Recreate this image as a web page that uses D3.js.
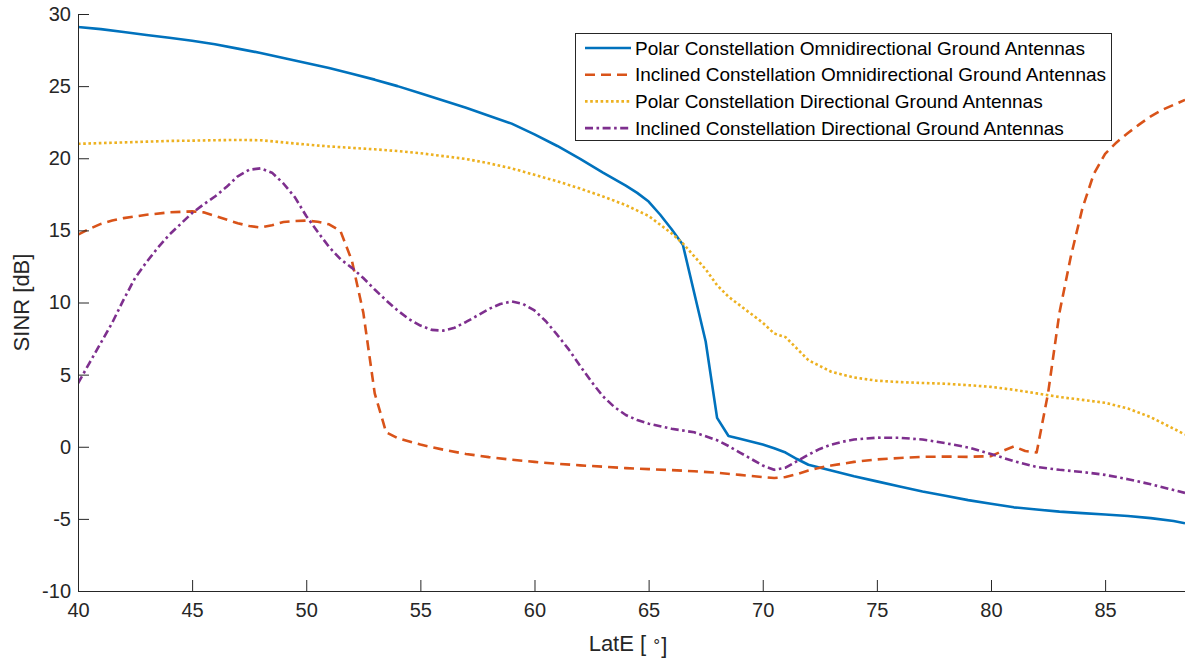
<!DOCTYPE html>
<html>
<head>
<meta charset="utf-8">
<script src="https://cdn.jsdelivr.net/npm/d3@7"></script>
<style>
  html, body { margin: 0; padding: 0; background: #fff; }
  svg { display: block; font-family: "Liberation Sans", Arial, Helvetica, sans-serif; }
</style>
</head>
<body>
<svg id="chart" width="1185" height="659"></svg>
<script>
// SINR versus latitude for polar / inclined constellations

const seriesNames = [
  "Polar Constellation Omnidirectional Ground Antennas",
  "Inclined Constellation Omnidirectional Ground Antennas",
  "Polar Constellation Directional Ground Antennas",
  "Inclined Constellation Directional Ground Antennas"
];

const xTicks = [40, 45, 50, 55, 60, 65, 70, 75, 80, 85];
const yTicks = [-10, -5, 0, 5, 10, 15, 20, 25, 30];

// [LatE, SINR dB]
const polarOmni = [
  [40, 29.1], [41, 28.95], [42, 28.75], [43, 28.55], [44, 28.35], [45, 28.15],
  [46, 27.9], [47, 27.6], [48, 27.3], [49, 26.95], [50, 26.6], [51, 26.25],
  [52, 25.85], [53, 25.45], [54, 25.0], [55, 24.5], [56, 24.0], [57, 23.5],
  [58, 22.95], [59, 22.4], [60, 21.65], [61, 20.85], [62, 19.95], [63, 19.0],
  [64, 18.1], [64.5, 17.6], [65, 17.0], [65.5, 16.1], [66, 15.1], [66.5, 14.0],
  [67.5, 7.3], [68, 2.0], [68.5, 0.75], [69, 0.55], [70, 0.15], [70.5, -0.1],
  [71, -0.4], [71.5, -0.85], [72, -1.25], [73, -1.65], [74, -2.05], [75, -2.4],
  [76, -2.75], [77, -3.1], [78, -3.4], [79, -3.7], [80, -3.95], [81, -4.2],
  [82, -4.35], [83, -4.5], [84, -4.6], [85, -4.7], [86, -4.8], [87, -4.95],
  [88, -5.15], [88.5, -5.3]
];

const inclinedOmni = [
  [40, 14.7], [40.5, 15.1], [41, 15.45], [41.5, 15.68], [42, 15.85], [43, 16.08],
  [44, 16.25], [45, 16.32], [45.5, 16.25], [46, 16.0], [46.5, 15.75], [47, 15.5],
  [47.5, 15.3], [48, 15.2], [48.5, 15.35], [49, 15.58], [49.5, 15.65], [50, 15.68],
  [50.5, 15.6], [51, 15.42], [51.5, 14.95], [52, 12.9], [52.5, 9.3], [53, 3.7],
  [53.5, 1.0], [54, 0.6], [55, 0.15], [56, -0.2], [57, -0.5], [58, -0.72],
  [59, -0.9], [60, -1.05], [61, -1.18], [62, -1.29], [63, -1.38], [64, -1.48],
  [65, -1.55], [66, -1.62], [67, -1.7], [68, -1.8], [69, -1.95], [70, -2.1],
  [70.5, -2.17], [71, -2.1], [71.5, -1.9], [72, -1.65], [72.5, -1.45], [73, -1.3],
  [74, -1.05], [75, -0.88], [76, -0.78], [77, -0.7], [78, -0.68], [79, -0.7],
  [80, -0.65], [80.5, -0.3], [81, 0.02], [81.5, -0.3], [82, -0.4], [82.5, 3.7],
  [83, 9.3], [83.5, 13.2], [84, 16.5], [84.5, 18.9], [85, 20.3], [85.5, 21.1],
  [86, 21.75], [86.5, 22.35], [87, 22.9], [87.5, 23.35], [88, 23.7], [88.5, 24.05]
];

const polarDir = [
  [40, 21.0], [41, 21.05], [42, 21.1], [43, 21.15], [44, 21.2], [45, 21.22],
  [46, 21.25], [47, 21.27], [48, 21.25], [49, 21.1], [50, 20.95], [51, 20.82],
  [52, 20.72], [53, 20.62], [54, 20.5], [55, 20.35], [56, 20.15], [57, 19.95],
  [58, 19.65], [59, 19.3], [60, 18.85], [61, 18.4], [62, 17.9], [63, 17.35],
  [64, 16.75], [65, 16.0], [66, 14.8], [66.5, 14.1], [67, 13.2], [67.5, 12.3],
  [68, 11.2], [68.5, 10.4], [69, 9.8], [69.5, 9.2], [70, 8.6], [70.5, 7.85],
  [71, 7.6], [71.5, 6.8], [72, 6.0], [72.5, 5.6], [73, 5.2], [74, 4.8],
  [75, 4.58], [76, 4.48], [77, 4.42], [78, 4.37], [79, 4.27], [80, 4.15],
  [81, 3.95], [82, 3.7], [83, 3.45], [84, 3.25], [85, 3.05], [86, 2.65],
  [87, 2.05], [88, 1.25], [88.5, 0.85]
];

const inclinedDir = [
  [40, 4.4], [40.5, 5.8], [41, 7.2], [41.5, 8.6], [42, 10.2], [42.5, 11.7],
  [43, 12.8], [43.5, 13.8], [44, 14.7], [44.5, 15.45], [45, 16.2], [45.5, 16.8],
  [46, 17.35], [46.5, 18.0], [47, 18.75], [47.5, 19.2], [48, 19.3], [48.5, 19.0],
  [49, 18.25], [49.5, 17.3], [50, 16.0], [50.5, 14.9], [51, 13.85], [51.5, 13.0],
  [52, 12.4], [52.5, 11.7], [53, 10.9], [53.5, 10.15], [54, 9.45], [54.5, 8.85],
  [55, 8.4], [55.5, 8.1], [56, 8.05], [56.5, 8.25], [57, 8.65], [57.5, 9.1],
  [58, 9.55], [58.5, 9.9], [59, 10.07], [59.5, 9.9], [60, 9.45], [60.5, 8.7],
  [61, 7.75], [61.5, 6.75], [62, 5.6], [62.5, 4.5], [63, 3.5], [63.5, 2.75],
  [64, 2.2], [64.5, 1.85], [65, 1.6], [66, 1.25], [67, 1.0], [68, 0.45],
  [68.5, 0.05], [69, -0.4], [69.5, -0.85], [70, -1.3], [70.5, -1.6], [71, -1.45],
  [71.5, -1.0], [72, -0.55], [72.5, -0.15], [73, 0.15], [73.5, 0.35], [74, 0.5],
  [75, 0.63], [76, 0.62], [77, 0.5], [78, 0.25], [79, -0.05], [80, -0.5],
  [81, -1.0], [82, -1.4], [83, -1.6], [84, -1.75], [85, -1.95], [86, -2.25],
  [87, -2.6], [88, -3.0], [88.5, -3.2]
];

const seriesData = [polarOmni, inclinedOmni, polarDir, inclinedDir];
const seriesColors = ["#0072BD", "#D95319", "#EDB120", "#7E2F8E"];
const seriesDash = [null, "10,6", "2.6,2.6", "8,3.5,2.6,3.5"];

const margin = { top: 14, right: 0, bottom: 68, left: 78 };
const width = 1185, height = 659;
const svg = d3.select("#chart");

const x = d3.scaleLinear().domain([40, 88.5]).range([margin.left, width - margin.right]);
const y = d3.scaleLinear().domain([-10, 30]).range([height - margin.bottom, margin.top]);

const axisColor = "#262626";

svg.append("defs").append("clipPath").attr("id", "plotClip")
  .append("rect")
  .attr("x", margin.left).attr("y", margin.top - 4)
  .attr("width", width - margin.left - margin.right)
  .attr("height", height - margin.bottom - margin.top + 8);

// Series lines
const line = d3.line().x(d => x(d[0])).y(d => y(d[1]));
const plot = svg.append("g").attr("clip-path", "url(#plotClip)");
seriesData.forEach((data, i) => {
  plot.append("path")
    .datum(data)
    .attr("fill", "none")
    .attr("stroke", seriesColors[i])
    .attr("stroke-width", 2.6)
    .attr("stroke-dasharray", seriesDash[i])
    .attr("stroke-linejoin", "round")
    .attr("d", line);
});

// Axes (ticks pointing inward, plain hyphen for negatives)
const fmt = d => String(d);
const xAxis = d3.axisBottom(x).tickValues(xTicks).tickFormat(fmt).tickSizeInner(-11).tickSizeOuter(0).tickPadding(9);
const yAxis = d3.axisLeft(y).tickValues(yTicks).tickFormat(fmt).tickSizeInner(-11).tickSizeOuter(0).tickPadding(7);

const gx = svg.append("g").attr("transform", `translate(0,${height - margin.bottom})`).call(xAxis);
const gy = svg.append("g").attr("transform", `translate(${margin.left},0)`).call(yAxis);

[gx, gy].forEach(g => {
  g.select(".domain").attr("stroke", axisColor).attr("stroke-width", 1);
  g.selectAll(".tick line").attr("stroke", axisColor).attr("stroke-width", 1);
  g.selectAll(".tick text").attr("fill", axisColor).style("font-size", "20px")
    .style("font-family", "'Liberation Sans', Arial, sans-serif");
});
gx.selectAll(".tick text").attr("dy", "0.85em");

// Axis titles
const xTitle = svg.append("text")
  .attr("x", 628).attr("y", 651)
  .attr("text-anchor", "middle")
  .attr("fill", axisColor)
  .style("font-size", "22px");
xTitle.append("tspan").text("LatE [ ");
xTitle.append("tspan").attr("dy", "-0.35em").style("font-size", "15px").text("∘");
xTitle.append("tspan").attr("dy", "0.35em").text("]");

svg.append("text")
  .attr("transform", `translate(29,${y(10)}) rotate(-90)`)
  .attr("text-anchor", "middle")
  .attr("fill", axisColor)
  .style("font-size", "22px")
  .text("SINR [dB]");

// Legend
const legend = svg.append("g");
legend.append("rect")
  .attr("x", 575.5).attr("y", 33.5)
  .attr("width", 536).attr("height", 107)
  .attr("fill", "#fff").attr("stroke", axisColor).attr("stroke-width", 1);

seriesNames.forEach((name, i) => {
  const ly = 48 + i * 26.7;
  legend.append("line")
    .attr("x1", 585).attr("x2", 631)
    .attr("y1", ly).attr("y2", ly)
    .attr("stroke", seriesColors[i])
    .attr("stroke-width", 2.6)
    .attr("stroke-dasharray", seriesDash[i]);
  legend.append("text")
    .attr("x", 635).attr("y", ly)
    .attr("dy", "0.35em")
    .attr("fill", "#000")
    .style("font-size", "19px")
    .text(name);
});
</script>
</body>
</html>
